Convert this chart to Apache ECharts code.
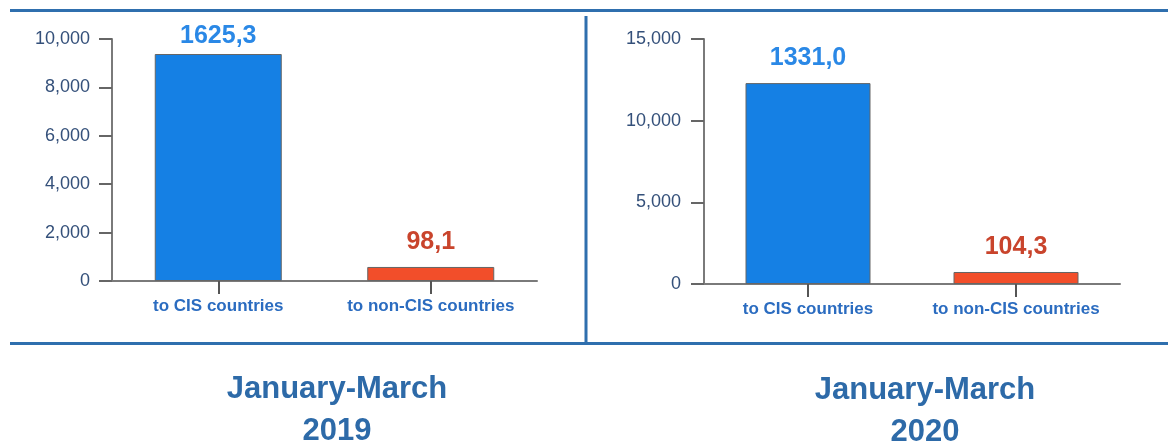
<!DOCTYPE html>
<html>
<head>
<meta charset="utf-8">
<script src="https://cdn.jsdelivr.net/npm/echarts@6/dist/echarts.min.js"></script>
<style>
  html, body { margin: 0; padding: 0; background: #fff; }
  #main { width: 1168px; height: 443px; }
</style>
</head>
<body>
<div id="main"></div>
<script>
const categories = ['to CIS countries', 'to non-CIS countries']
const values2019 = [9380, 580]
const values2020 = [12300, 735]
const labels2019 = ['1625,3', '98,1']
const labels2020 = ['1331,0', '104,3']
const periods = ['January-March\n2019', 'January-March\n2020']

const font = 'Liberation Sans, Arial, sans-serif'
const barColors = ['#1580e4', '#f24e2a']
const labelColors = ['#2a88e6', '#c9442c']
const frameColor = '#2f6fae'

let myChart = echarts.init(document.getElementById('main'))

const makeX = (idx) => ({
  type: 'category',
  gridIndex: idx,
  data: categories,
  axisLine: { lineStyle: { color: '#7a7a7a', width: 2 } },
  axisTick: { show: true, alignWithLabel: true, interval: 0, length: 13, lineStyle: { color: '#555', width: 2 } },
  axisLabel: {
    interval: 0,
    margin: 17,
    color: '#2b6cc0',
    fontFamily: font,
    fontWeight: 'bold',
    fontSize: 17
  }
})

const makeY = (idx, max, interval, margin) => ({
  type: 'value',
  gridIndex: idx,
  min: 0,
  max: max,
  interval: interval,
  splitLine: { show: false },
  axisLine: { show: true, lineStyle: { color: '#7a7a7a', width: 2 } },
  axisTick: { show: true, length: 13, lineStyle: { color: '#666', width: 2 } },
  axisLabel: {
    margin: margin,
    color: '#34507a',
    fontFamily: font,
    fontSize: 18,
    formatter: v => v.toLocaleString('en-US')
  }
})

// distances: the tall left bar has its label tucked closer in the original
const makeSeries = (idx, values, labels, barWidth, distances) => ({
  type: 'bar',
  xAxisIndex: idx,
  yAxisIndex: idx,
  barWidth: barWidth,
  data: values.map((v, i) => ({
    value: v,
    itemStyle: { color: barColors[i], borderColor: '#666', borderWidth: 1 },
    label: { color: labelColors[i], distance: distances[i] }
  })),
  label: {
    show: true,
    position: 'top',
    fontFamily: font,
    fontWeight: 'bold',
    fontSize: 25,
    formatter: p => labels[p.dataIndex]
  }
})

let option = {
  animation: false,
  grid: [
    { left: 112, top: 39, width: 425, height: 242 },
    { left: 704, top: 39, width: 416, height: 245 }
  ],
  xAxis: [makeX(0), makeX(1)],
  yAxis: [makeY(0, 10000, 2000, 22), makeY(1, 15000, 5000, 23)],
  series: [
    makeSeries(0, values2019, labels2019, 127, [5, 12]),
    makeSeries(1, values2020, labels2020, 125, [12, 12])
  ],
  title: [
    {
      text: periods[0], left: 332, top: 363, textAlign: 'center',
      textStyle: { color: '#2d6aa8', fontFamily: font, fontWeight: 'bold', fontSize: 31, lineHeight: 42 }
    },
    {
      text: periods[1], left: 920, top: 364, textAlign: 'center',
      textStyle: { color: '#2d6aa8', fontFamily: font, fontWeight: 'bold', fontSize: 31, lineHeight: 42 }
    }
  ],
  graphic: [
    { type: 'line', shape: { x1: 10, y1: 10.5, x2: 1168, y2: 10.5 }, style: { stroke: frameColor, lineWidth: 3 } },
    { type: 'line', shape: { x1: 10, y1: 343.5, x2: 1168, y2: 343.5 }, style: { stroke: frameColor, lineWidth: 3 } },
    { type: 'line', shape: { x1: 586, y1: 16, x2: 586, y2: 343 }, style: { stroke: frameColor, lineWidth: 3 } }
  ]
}

myChart.setOption(option)
</script>
</body>
</html>
